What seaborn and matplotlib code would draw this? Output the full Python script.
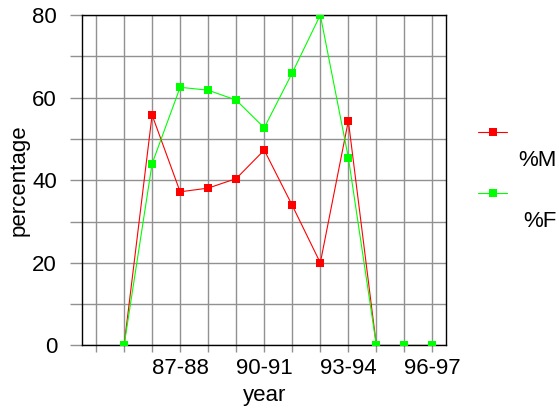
import numpy as np
import pandas as pd
import matplotlib
matplotlib.use("Agg")
import matplotlib.pyplot as plt
from matplotlib.lines import Line2D
import seaborn as sns

years = ["84-85", "85-86", "86-87", "87-88", "88-89", "89-90", "90-91",
         "91-92", "92-93", "93-94", "94-95", "95-96", "96-97"]
pct_m = [np.nan, 0, 55.8, 37.2, 38.1, 40.4, 47.3, 33.9, 20.0, 54.4, 0, 0, 0]
pct_f = [np.nan, 0, 44.0, 62.5, 61.8, 59.4, 52.7, 66.0, 80.0, 45.5, 0, 0, 0]
series = ["%M", "%F"]
colors = ["#ff0000", "#00ff00"]

df = pd.DataFrame({"pos": np.arange(len(years)), "year": years, "%M": pct_m, "%F": pct_f})
long_df = df.melt(id_vars=["pos", "year"], value_vars=series,
                  var_name="series", value_name="pct").dropna()

sns.set_style("white")
plt.rcParams["font.family"] = ["Liberation Sans", "DejaVu Sans"]
plt.rcParams["text.color"] = "black"
plt.rcParams["axes.labelcolor"] = "black"

fig = plt.figure(figsize=(5.59, 4.08), dpi=100)
ax = fig.add_axes([0.1467, 0.1532, 0.652, 0.81])

sns.lineplot(data=long_df, x="pos", y="pct", hue="series", hue_order=series,
             palette=colors, marker="s", markersize=5.8, markeredgewidth=0,
             linewidth=0.8, ax=ax, legend=False, zorder=3)
for ln in ax.lines:
    ln.set_clip_on(True)

ax.set_xlim(-0.5, len(years) - 0.5)
ax.set_ylim(0, 80)
ax.set_xticks(np.arange(len(years)))
ax.set_xticklabels([y if i % 3 == 0 and i > 0 else "" for i, y in enumerate(years)])
ax.set_yticks([0, 20, 40, 60, 80])
ax.set_yticks([10, 30, 50, 70], minor=True)

ax.grid(True, which="both", color="#919191", linewidth=1.0)
ax.set_axisbelow(True)
ax.tick_params(axis="y", which="both", length=9, width=1, color="#919191",
               labelsize=16, labelcolor="black", pad=9, left=True)
ax.tick_params(axis="x", length=5, width=1, color="#919191", labelsize=16,
               labelcolor="black", pad=4, bottom=True)
for s in ax.spines.values():
    s.set_color("black")
    s.set_linewidth(1.0)

ax.set_xlabel("year", fontsize=16, labelpad=4)
ax.set_ylabel("percentage", fontsize=16, labelpad=2)

# legend drawn to the right, labels sit below-right of the keys
for i, (name, c) in enumerate(zip(series, colors)):
    yk = 1 - (131.7 + 61.6 * i) / 408
    fig.add_artist(Line2D([478 / 559, 507 / 559], [yk, yk], color=c, linewidth=0.8,
                          transform=fig.transFigure))
    fig.add_artist(Line2D([492.5 / 559], [yk], color=c, marker="s", markersize=5.8,
                          markeredgewidth=0, transform=fig.transFigure))
    fig.text(557 / 559, yk - 28.5 / 408, name, fontsize=16, ha="right", va="center")

fig.savefig("out.png", dpi=100)
